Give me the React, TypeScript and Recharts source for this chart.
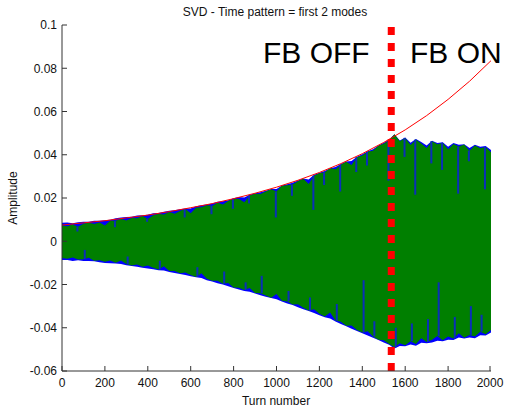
import React from 'react';
import { ComposedChart, Area, Bar, Line, XAxis, YAxis, ReferenceLine } from 'recharts';

// sample spacing of the envelope readings (turns)
const TURN_STEP = 25;

// green (mode 2) envelope, read every 25 turns from 0 to 2000
const greenHigh = [
  0.0073, 0.0069, 0.0077, 0.0067, 0.0081, 0.0086, 0.0080, 0.0087, 0.0073, 0.0095,
  0.0095, 0.0103, 0.0096, 0.0107, 0.0106, 0.0117, 0.0103, 0.0120, 0.0126, 0.0124,
  0.0135, 0.0127, 0.0140, 0.0149, 0.0130, 0.0155, 0.0157, 0.0166, 0.0163, 0.0178,
  0.0170, 0.0186, 0.0196, 0.0195, 0.0180, 0.0212, 0.0220, 0.0219, 0.0230, 0.0240,
  0.0230, 0.0257, 0.0259, 0.0262, 0.0278, 0.0289, 0.0265, 0.0303, 0.0315, 0.0319,
  0.0337, 0.0333, 0.0354, 0.0368, 0.0353, 0.0389, 0.0397, 0.0414, 0.0418, 0.0442,
  0.0451, 0.0467, 0.0495, 0.0462, 0.0478, 0.0445, 0.0470, 0.0452, 0.0431, 0.0463,
  0.0448, 0.0455, 0.0426, 0.0450, 0.0438, 0.0447, 0.0419, 0.0443, 0.0430, 0.0436,
  0.0412,
];
const greenLow = [
  -0.0077, -0.0081, -0.0075, -0.0084, -0.0083, -0.0076, -0.0090, -0.0088, -0.0095, -0.0089,
  -0.0099, -0.0089, -0.0105, -0.0112, -0.0108, -0.0118, -0.0112, -0.0123, -0.0131, -0.0116,
  -0.0137, -0.0138, -0.0148, -0.0144, -0.0156, -0.0165, -0.0148, -0.0173, -0.0183, -0.0183,
  -0.0196, -0.0193, -0.0214, -0.0215, -0.0225, -0.0216, -0.0239, -0.0240, -0.0251, -0.0261,
  -0.0244, -0.0275, -0.0279, -0.0292, -0.0291, -0.0308, -0.0320, -0.0315, -0.0335, -0.0348,
  -0.0330, -0.0367, -0.0372, -0.0391, -0.0390, -0.0410, -0.0422, -0.0416, -0.0440, -0.0455,
  -0.0458, -0.0475, -0.0490, -0.0472, -0.0481, -0.0462, -0.0475, -0.0449, -0.0466, -0.0455,
  -0.0438, -0.0458, -0.0441, -0.0450, -0.0426, -0.0446, -0.0433, -0.0440, -0.0418, -0.0430,
  -0.0410,
];
// blue (mode 1) envelope, same sampling
const blueHigh = [
  0.0085, 0.0087, 0.0083, 0.0088, 0.0090, 0.0090, 0.0095, 0.0095, 0.0097, 0.0100,
  0.0106, 0.0110, 0.0112, 0.0113, 0.0119, 0.0120, 0.0122, 0.0129, 0.0131, 0.0136,
  0.0141, 0.0143, 0.0148, 0.0152, 0.0152, 0.0162, 0.0167, 0.0170, 0.0175, 0.0183,
  0.0185, 0.0190, 0.0199, 0.0205, 0.0202, 0.0215, 0.0222, 0.0227, 0.0234, 0.0242,
  0.0242, 0.0258, 0.0264, 0.0271, 0.0281, 0.0290, 0.0285, 0.0307, 0.0317, 0.0325,
  0.0338, 0.0343, 0.0357, 0.0369, 0.0371, 0.0391, 0.0402, 0.0416, 0.0426, 0.0443,
  0.0455, 0.0470, 0.0495, 0.0466, 0.0480, 0.0455, 0.0473, 0.0459, 0.0443, 0.0465,
  0.0454, 0.0458, 0.0437, 0.0454, 0.0446, 0.0449, 0.0431, 0.0446, 0.0437, 0.0441,
  0.0422,
];
const blueLow = [
  -0.0087, -0.0087, -0.0091, -0.0088, -0.0091, -0.0091, -0.0093, -0.0097, -0.0100, -0.0102,
  -0.0103, -0.0105, -0.0111, -0.0114, -0.0118, -0.0122, -0.0126, -0.0129, -0.0134, -0.0135,
  -0.0142, -0.0147, -0.0151, -0.0156, -0.0162, -0.0167, -0.0170, -0.0180, -0.0186, -0.0194,
  -0.0200, -0.0208, -0.0216, -0.0223, -0.0230, -0.0234, -0.0242, -0.0250, -0.0257, -0.0263,
  -0.0268, -0.0279, -0.0288, -0.0295, -0.0305, -0.0314, -0.0322, -0.0332, -0.0342, -0.0351,
  -0.0357, -0.0371, -0.0383, -0.0393, -0.0405, -0.0415, -0.0425, -0.0436, -0.0446, -0.0457,
  -0.0468, -0.0479, -0.0496, -0.0484, -0.0486, -0.0478, -0.0483, -0.0469, -0.0472, -0.0468,
  -0.0460, -0.0463, -0.0455, -0.0457, -0.0445, -0.0450, -0.0445, -0.0449, -0.0435, -0.0436,
  -0.0422,
];

// isolated blue swings reaching into the green band
const topSpikeTurns = [75, 250, 400, 575, 700, 800, 875, 1000, 1075, 1175, 1225, 1300, 1375, 1425, 1525, 1600, 1650, 1725, 1775, 1850, 1900, 1975];
const topSpikeEnd = [0.0045, 0.0065, 0.009, 0.011, 0.0125, 0.015, 0.0175, 0.011, 0.021, 0.0145, 0.026, 0.023, 0.032, 0.035, 0.028, 0.039, 0.0215, 0.036, 0.033, 0.022, 0.037, 0.024];
const lowSpikeTurns = [100, 300, 450, 625, 750, 850, 925, 1050, 1150, 1275, 1400, 1450, 1550, 1625, 1700, 1750, 1825, 1900, 1950];
const lowSpikeEnd = [-0.004, -0.007, -0.009, -0.012, -0.014, -0.019, -0.016, -0.023, -0.026, -0.029, -0.018, -0.037, -0.04, -0.038, -0.036, -0.019, -0.035, -0.03, -0.034];

// red growth curve
const redTurns = [0, 100, 200, 300, 400, 500, 600, 700, 800, 900, 1000, 1100, 1200, 1300, 1400, 1500, 1600, 1700, 1800, 1900, 2000];
const redAmp = [0.0075, 0.0085, 0.0095, 0.0108, 0.0121, 0.0137, 0.0155, 0.0174, 0.0197, 0.0222, 0.0250, 0.0282, 0.0318, 0.0359, 0.0405, 0.0457, 0.0515, 0.0581, 0.0656, 0.0740, 0.0835];

const xTicks = [0, 200, 400, 600, 800, 1000, 1200, 1400, 1600, 1800, 2000];
const yTicks = [-0.06, -0.04, -0.02, 0, 0.02, 0.04, 0.06, 0.08, 0.1];
const fbTurn = 1535;

const data = greenHigh.map((_, i) => {
  const turn = i * TURN_STEP;
  const r = redTurns.indexOf(turn);
  const t = topSpikeTurns.indexOf(turn);
  const l = lowSpikeTurns.indexOf(turn);
  return {
    turn,
    blue: [blueLow[i], blueHigh[i]],
    green: [greenLow[i], greenHigh[i]],
    spikeTop: t >= 0 ? [topSpikeEnd[t], greenHigh[i]] : null,
    spikeLow: l >= 0 ? [greenLow[i], lowSpikeEnd[l]] : null,
    red: r >= 0 ? redAmp[r] : null,
  };
});

const FONT = '"Liberation Sans", Arial, Helvetica, sans-serif';
const AX = '#333333';
const TXT = '#111111';

function BottomTick(props: any) {
  const { x, y, payload } = props;
  return (
    <g>
      <line x1={x} y1={y} x2={x} y2={y - 5} stroke={AX} strokeWidth={1} />
      <text x={x} y={y + 16} textAnchor="middle" fontSize={12} fontFamily={FONT} fill={TXT}>
        {String(payload.value)}
      </text>
    </g>
  );
}
function TopTick(props: any) {
  const { x, y } = props;
  return <line x1={x} y1={y} x2={x} y2={y + 5} stroke={AX} strokeWidth={1} />;
}
function LeftTick(props: any) {
  const { x, y, payload } = props;
  return (
    <g>
      <line x1={x} y1={y} x2={x + 5} y2={y} stroke={AX} strokeWidth={1} />
      <text x={x - 5} y={y} dy="0.36em" textAnchor="end" fontSize={12} fontFamily={FONT} fill={TXT}>
        {String(payload.value)}
      </text>
    </g>
  );
}
function RightTick(props: any) {
  const { x, y } = props;
  return <line x1={x} y1={y} x2={x - 5} y2={y} stroke={AX} strokeWidth={1} />;
}

export default function App() {
  return (
    <div style={{ position: 'absolute', left: 0, top: 0, width: 506, height: 408, background: '#fff' }}>
      <ComposedChart
        width={506}
        height={408}
        data={data}
        margin={{ top: 25, right: 15, bottom: 0, left: 0 }}
        barGap={0}
        barCategoryGap={0}
      >
        <XAxis
          dataKey="turn"
          type="number"
          domain={[0, 2000]}
          ticks={xTicks}
          allowDataOverflow
          height={37}
          tickSize={0}
          tickMargin={0}
          tick={<BottomTick />}
          tickLine={false}
          axisLine={{ stroke: AX }}
        />
        <XAxis
          xAxisId="top"
          orientation="top"
          type="number"
          domain={[0, 2000]}
          ticks={xTicks}
          allowDataOverflow
          height={0}
          tickSize={0}
          tickMargin={0}
          tick={<TopTick />}
          tickLine={false}
          axisLine={{ stroke: AX }}
        />
        <YAxis
          type="number"
          domain={[-0.06, 0.1]}
          ticks={yTicks}
          allowDataOverflow
          width={62}
          tickSize={0}
          tickMargin={0}
          tick={<LeftTick />}
          tickLine={false}
          axisLine={{ stroke: AX }}
        />
        <YAxis
          yAxisId="right"
          orientation="right"
          type="number"
          domain={[-0.06, 0.1]}
          ticks={yTicks}
          allowDataOverflow
          width={0}
          tickSize={0}
          tickMargin={0}
          tick={<RightTick />}
          tickLine={false}
          axisLine={{ stroke: AX }}
        />
        <Area
          type="linear"
          dataKey="blue"
          stroke="none"
          fill="#0000ff"
          fillOpacity={1}
          isAnimationActive={false}
          dot={false}
          activeDot={false}
        />
        <Area
          type="linear"
          dataKey="green"
          stroke="none"
          fill="#007f00"
          fillOpacity={1}
          isAnimationActive={false}
          dot={false}
          activeDot={false}
        />
        <Bar dataKey="spikeTop" fill="#0a2fb8" barSize={2} isAnimationActive={false} />
        <Bar dataKey="spikeLow" fill="#0a2fb8" barSize={2} isAnimationActive={false} />
        <Line
          type="linear"
          dataKey="red"
          connectNulls
          stroke="#ff0000"
          strokeWidth={1}
          dot={false}
          activeDot={false}
          isAnimationActive={false}
        />
        <ReferenceLine x={fbTurn} stroke="#ff0000" strokeWidth={7} strokeDasharray="8 8" />
      </ComposedChart>
      <svg
        width={506}
        height={408}
        style={{ position: 'absolute', left: 0, top: 0, pointerEvents: 'none' }}
      >
        <text x={275} y={16} textAnchor="middle" fontSize={12} fontFamily={FONT} fill={TXT}>
          SVD - Time pattern = first 2 modes
        </text>
        <text x={276} y={405} textAnchor="middle" fontSize={12} fontFamily={FONT} fill={TXT}>
          Turn number
        </text>
        <text
          x={0}
          y={0}
          transform="translate(17,198) rotate(-90)"
          textAnchor="middle"
          fontSize={12}
          fontFamily={FONT}
          fill={TXT}
        >
          Amplitude
        </text>
        <text x={263} y={63} fontSize={30} fontFamily={FONT} fill="#000">
          FB OFF
        </text>
        <text x={410} y={63} fontSize={30} fontFamily={FONT} fill="#000">
          FB ON
        </text>
      </svg>
    </div>
  );
}
